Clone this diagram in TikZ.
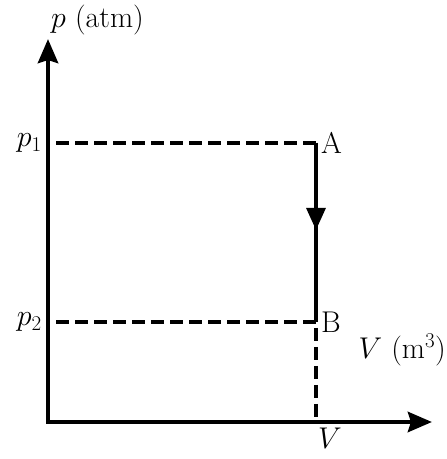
\RequirePackage{fix-cm}
\documentclass[tikz,border=0pt]{standalone}
\usepackage{amsmath}
\usepackage{tikz}
\usetikzlibrary{arrows.meta, positioning, calc}

\begin{document}
\begin{tikzpicture}[
  x=1pt, y=1pt,
  axis/.style={line width=4.8pt, {Stealth[length=24pt, width=20pt, inset=3pt]}-{Stealth[length=24pt, width=20pt, inset=3pt]}},
  guide/.style={line width=3.4pt, dash pattern=on 13pt off 6pt, dash phase=-8pt},
  lbl/.style={font=\fontsize{30}{36}\selectfont, inner sep=1pt},
]
  \useasboundingbox (0,0) rectangle (447,459);
  \coordinate (O) at (48,37);
  \coordinate (yend) at (48,420);
  \coordinate (xend) at (432,37);
  \coordinate (p1) at (48,316);
  \coordinate (p2) at (48,137);
  \coordinate (pA) at (316,316);
  \coordinate (pB) at (316,137);
  \coordinate (pmid) at (316,229);
  \coordinate (vx) at (316,37);
  % dashed guides
  \draw[guide] (p1) -- (pA);
  \draw[guide] (p2) -- (pB) -- (vx);
  % process A to B
  \draw[line width=3.2pt] (pA) -- (pB);
  \draw[line width=3.2pt, -{Triangle[length=22pt, width=19pt]}] (pA) -- (pmid);
  % axes
  \draw[axis] (yend) -- (O) -- (xend);
  % labels
  \node[lbl, anchor=south west] (plab) at ($(yend)+(2,3)$) {$p$ (atm)};
  \node[lbl, left=5pt of p1] (p1lab) {$p_1$};
  \node[lbl, left=5pt of p2] (p2lab) {$p_2$};
  \node[lbl, right=4pt of pA] (Alab) {A};
  \node[lbl, right=4pt of pB] (Blab) {B};
  \node[lbl, anchor=east] (vlab) at (447,109) {$V$ (m$^3$)};
  \node[lbl, below=5pt of vx, xshift=14pt] (vxlab) {$V$};
\end{tikzpicture}
\end{document}
